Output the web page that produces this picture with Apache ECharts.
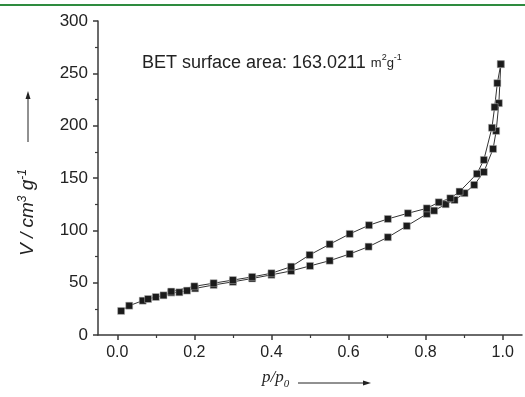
<!DOCTYPE html>
<html>
<head>
<meta charset="utf-8">
<script src="https://cdn.jsdelivr.net/npm/echarts@6/dist/echarts.min.js"></script>
<style>
  html, body { margin: 0; padding: 0; background: #fff; }
  #chart { width: 525px; height: 397px; }
</style>
</head>
<body>
<div id="chart"></div>
<script>
// adsorption branch (lower)
const adsP = [0.010, 0.031, 0.066, 0.080, 0.100, 0.120, 0.140, 0.161, 0.181, 0.202, 0.250, 0.300, 0.350, 0.400, 0.451, 0.500, 0.551, 0.603, 0.652, 0.702, 0.751, 0.803, 0.822, 0.852, 0.875, 0.901, 0.926, 0.951, 0.975, 0.983, 0.990, 0.995]
const adsV = [23, 28, 32.8, 34.4, 36.3, 37.9, 40.5, 40.8, 42.4, 44.5, 47.8, 50.8, 54, 57.5, 61.2, 66, 71, 77.4, 84.4, 93.4, 104.2, 115.7, 118.8, 124.9, 129, 135.5, 143.4, 155.7, 177.8, 195, 221.5, 258.8]
// desorption branch (upper)
const desP = [0.995, 0.986, 0.979, 0.972, 0.951, 0.933, 0.888, 0.864, 0.834, 0.803, 0.754, 0.702, 0.653, 0.603, 0.551, 0.499, 0.451, 0.400, 0.350, 0.300, 0.250, 0.200, 0.140]
const desV = [258.8, 240.6, 217.7, 198, 167.3, 154, 137, 130.6, 126.8, 121, 116.3, 110.9, 104.9, 96.6, 86.7, 76.5, 65.3, 59, 55.5, 52.5, 49.5, 46.5, 41.5]

const xMajor = [0, 0.2, 0.4, 0.6, 0.8, 1.0]
const xMinor = [0.1, 0.3, 0.5, 0.7, 0.9]

const axisColor = '#3a3a3a'
const font = 'Liberation Sans, Arial, sans-serif'

function pairs(xs, ys) {
  return xs.map((x, i) => [x, ys[i]])
}

const chart = echarts.init(document.getElementById('chart'))

const lineSeries = (name, data) => ({
  name: name,
  type: 'line',
  data: data,
  symbol: 'rect',
  symbolSize: 7,
  itemStyle: { color: '#1b1b1b', borderColor: '#bbb', borderWidth: 0.5 },
  lineStyle: { color: '#333', width: 1 },
  animation: false
})

chart.setOption({
  animation: false,
  grid: { left: 98, right: 3, top: 21, bottom: 62, containLabel: false, outerBoundsMode: 'none' },
  xAxis: [
    {
      type: 'value',
      min: -0.05,
      max: 1.05,
      axisLine: { onZero: false, lineStyle: { color: axisColor, width: 1.5 } },
      axisTick: { customValues: xMajor, length: 5, lineStyle: { color: axisColor, width: 1.5 } },
      axisLabel: {
        customValues: xMajor,
        margin: 10,
        fontSize: 16,
        fontFamily: font,
        color: '#222',
        formatter: v => v.toFixed(1)
      },
      splitLine: { show: false }
    },
    {
      type: 'value',
      min: -0.05,
      max: 1.05,
      position: 'bottom',
      axisLine: { show: false, onZero: false },
      axisTick: { customValues: xMinor, length: 3, lineStyle: { color: axisColor, width: 1.2 } },
      axisLabel: { show: false },
      splitLine: { show: false }
    }
  ],
  yAxis: {
    type: 'value',
    min: 0,
    max: 300,
    interval: 50,
    axisLine: { show: true, onZero: false, lineStyle: { color: axisColor, width: 1.5 } },
    axisTick: { show: true, length: 5, lineStyle: { color: axisColor, width: 1.5 } },
    minorTick: { show: true, splitNumber: 2, length: 3, lineStyle: { color: axisColor, width: 1.2 } },
    axisLabel: { margin: 10, fontSize: 17, fontFamily: font, color: '#222' },
    splitLine: { show: false }
  },
  series: [
    lineSeries('adsorption', pairs(adsP, adsV)),
    lineSeries('desorption', pairs(desP, desV))
  ],
  graphic: [
    // green rule at top
    { type: 'rect', left: 0, top: 4, shape: { width: 525, height: 2 }, style: { fill: '#2e8b3f' } },
    // BET text
    {
      type: 'text',
      left: 142,
      top: 53,
      style: {
        text: '{a|BET surface area: 163.0211 }{b|m}{s|2}{b|g}{s|-1}',
        rich: {
          a: { fontSize: 18, fontFamily: font, fill: '#222', lineHeight: 20 },
          b: { fontSize: 13, fontFamily: font, fill: '#222', lineHeight: 20 },
          s: { fontSize: 9, fontFamily: font, fill: '#222', lineHeight: 20, verticalAlign: 'top' }
        }
      }
    },
    // y axis name
    {
      type: 'text',
      x: 17,
      y: 256,
      rotation: Math.PI / 2,
      style: {
        text: '{i|V / cm}{s|3}{i| g}{s|-1}',
        rich: {
          i: { fontSize: 19, fontFamily: font, fontStyle: 'italic', fill: '#222', lineHeight: 22 },
          s: { fontSize: 12, fontFamily: font, fontStyle: 'italic', fill: '#222', lineHeight: 22, verticalAlign: 'top' }
        }
      }
    },
    { type: 'line', shape: { x1: 28, y1: 142, x2: 28, y2: 98 }, style: { stroke: '#222', lineWidth: 1 } },
    { type: 'polygon', shape: { points: [[28, 91], [25.5, 99], [30.5, 99]] }, style: { fill: '#222' } },
    // x axis name
    {
      type: 'text',
      left: 262,
      top: 369,
      style: {
        text: '{i|p/p}{s|0}',
        rich: {
          i: { fontSize: 17, fontFamily: 'Liberation Serif, Times New Roman, serif', fontStyle: 'italic', fill: '#222', lineHeight: 20 },
          s: { fontSize: 11, fontFamily: 'Liberation Serif, Times New Roman, serif', fontStyle: 'italic', fill: '#222', lineHeight: 24, verticalAlign: 'bottom' }
        }
      }
    },
    { type: 'line', shape: { x1: 298, y1: 383, x2: 364, y2: 383 }, style: { stroke: '#222', lineWidth: 1 } },
    { type: 'polygon', shape: { points: [[371, 383], [363, 380.5], [363, 385.5]] }, style: { fill: '#222' } }
  ]
})
</script>
</body>
</html>
